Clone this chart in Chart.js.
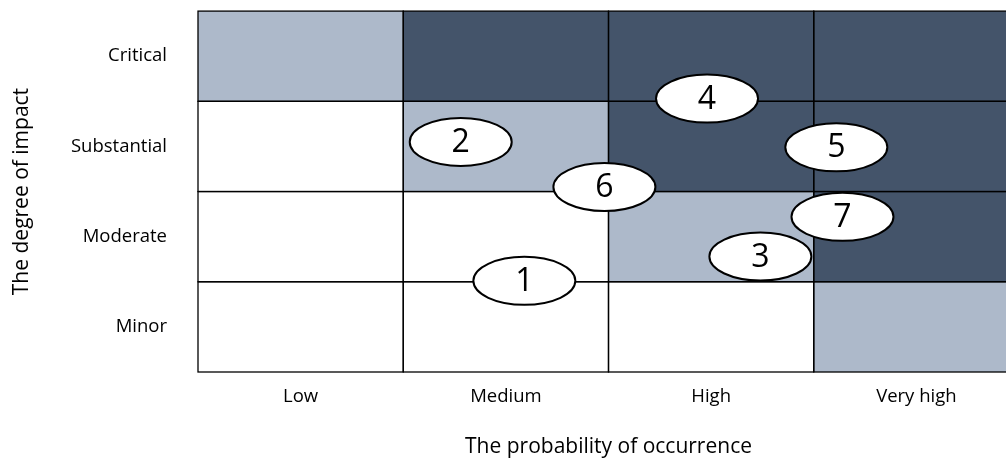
<!DOCTYPE html>
<html>
<head>
<meta charset="utf-8">
<script src="https://cdn.jsdelivr.net/npm/chart.js@4.4.1/dist/chart.umd.min.js"></script>
<style>
  html, body { margin: 0; padding: 0; background: #fff; overflow: hidden; }
  #wrap { width: 1022px; height: 461px; }
</style>
</head>
<body>
<div id="wrap"><canvas id="riskChart"></canvas></div>
<script>
// axis categories
const probabilityLevels = ['Low', 'Medium', 'High', 'Very high'];
const impactLevels = ['Minor', 'Moderate', 'Substantial', 'Critical'];

// zone per cell, rows from Minor up to Critical: 0 = none, 1 = light, 2 = dark
const zoneMinor       = [0, 0, 0, 1];
const zoneModerate    = [0, 0, 1, 2];
const zoneSubstantial = [0, 1, 2, 2];
const zoneCritical    = [1, 2, 2, 2];
const riskZones = [zoneMinor, zoneModerate, zoneSubstantial, zoneCritical];

const riskIds = ['1', '2', '3', '4', '5', '6', '7'];
const riskProbability = [1.59, 1.28, 2.74, 2.48, 3.11, 1.98, 3.14];
const riskImpact = [1.01, 2.55, 1.28, 3.03, 2.49, 2.05, 1.72];

const zoneColors = ['#ffffff', '#adb9ca', '#44546a'];
const FONT = "'Open Sans', 'Noto Sans', sans-serif";

const centers = n => Array.from({ length: n }, (_, i) => ({ value: i + 0.5 }));

// fills the matrix cells and draws their borders
const cellsPlugin = {
  id: 'cells',
  beforeDatasetsDraw(chart) {
    const { ctx, scales: { x, y } } = chart;
    ctx.save();
    riskZones.forEach((row, r) => {
      row.forEach((zone, c) => {
        const x0 = x.getPixelForValue(c), x1 = x.getPixelForValue(c + 1);
        const y0 = y.getPixelForValue(r + 1), y1 = y.getPixelForValue(r);
        ctx.fillStyle = zoneColors[zone];
        ctx.fillRect(x0, y0, x1 - x0, y1 - y0);
      });
    });
    ctx.strokeStyle = '#000';
    ctx.lineWidth = 1.3;
    riskZones.forEach((row, r) => {
      row.forEach((zone, c) => {
        const x0 = x.getPixelForValue(c), x1 = x.getPixelForValue(c + 1);
        const y0 = y.getPixelForValue(r + 1), y1 = y.getPixelForValue(r);
        ctx.strokeRect(x0, y0, x1 - x0, y1 - y0);
      });
    });
    ctx.restore();
  }
};

// numbered ellipses on top of the scatter points
const bubblesPlugin = {
  id: 'bubbles',
  afterDatasetsDraw(chart) {
    const { ctx } = chart;
    const meta = chart.getDatasetMeta(0);
    ctx.save();
    meta.data.forEach((pt, i) => {
      ctx.beginPath();
      ctx.ellipse(pt.x, pt.y, 51, 24, 0, 0, Math.PI * 2);
      ctx.fillStyle = '#fff';
      ctx.fill();
      ctx.lineWidth = 2;
      ctx.strokeStyle = '#000';
      ctx.stroke();
      ctx.fillStyle = '#000';
      ctx.font = '32px ' + FONT;
      ctx.textAlign = 'center';
      ctx.textBaseline = 'middle';
      ctx.fillText(riskIds[i], pt.x, pt.y + 1);
    });
    ctx.restore();
  }
};

new Chart('riskChart', {
  type: 'scatter',
  data: {
    datasets: [{
      label: 'Risks',
      data: riskProbability.map((p, i) => ({ x: p, y: riskImpact[i] })),
      pointRadius: 0,
      pointHoverRadius: 0
    }]
  },
  options: {
    responsive: true,
    maintainAspectRatio: false,
    animation: false,
    layout: { autoPadding: false, padding: { top: 7, right: 3, left: 0, bottom: 0 } },
    plugins: { legend: { display: false }, tooltip: { enabled: false } },
    scales: {
      x: {
        min: 0, max: 4,
        afterBuildTicks: s => { s.ticks = centers(probabilityLevels.length); },
        afterFit: s => { s.height = 89; },
        grid: { display: false, drawTicks: true, tickLength: 14 },
        border: { display: false },
        ticks: {
          padding: 0,
          color: '#000',
          font: { family: FONT, size: 18.5 },
          maxRotation: 0,
          callback: v => probabilityLevels[Math.floor(v)]
        },
        title: {
          display: true,
          text: 'The probability of occurrence',
          color: '#000',
          font: { family: FONT, size: 21 },
          padding: { top: 4, bottom: 1 }
        }
      },
      y: {
        min: 0, max: 4,
        afterBuildTicks: s => { s.ticks = centers(impactLevels.length); },
        afterFit: s => { s.width = 198; },
        grid: { display: false, drawTicks: true, tickLength: 31 },
        border: { display: false },
        ticks: {
          padding: 0,
          color: '#000',
          font: { family: FONT, size: 18.5 },
          callback: v => impactLevels[Math.floor(v)]
        },
        title: {
          display: true,
          text: 'The degree of impact',
          color: '#000',
          font: { family: FONT, size: 21 },
          padding: { top: 9, bottom: 4 }
        }
      }
    }
  },
  plugins: [cellsPlugin, bubblesPlugin]
});
</script>
</body>
</html>
